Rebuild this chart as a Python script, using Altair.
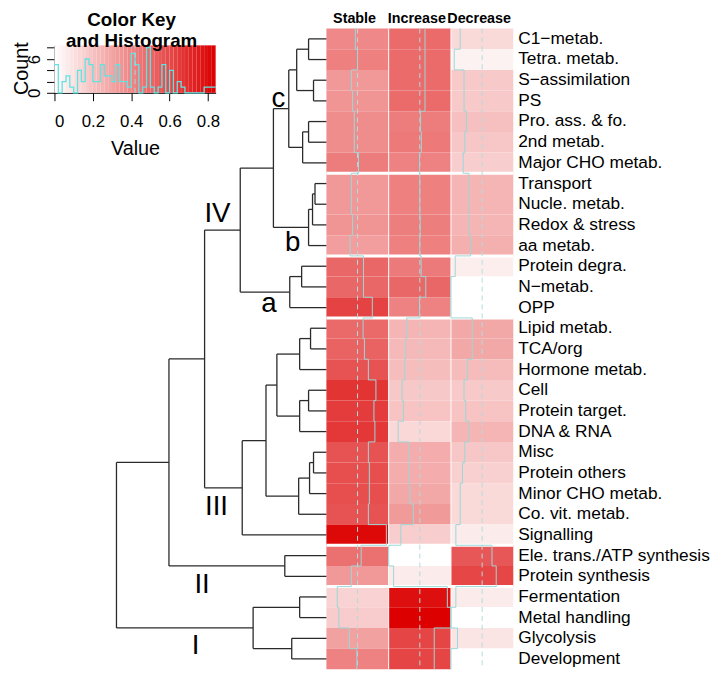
import altair as alt
import numpy as np
import pandas as pd

# ---------------- data ----------------
row_labels = [
    "C1−metab.", "Tetra. metab.", "S−assimilation", "PS", "Pro. ass. & fo.", "2nd metab.",
    "Major CHO metab.", "Transport", "Nucle. metab.", "Redox & stress", "aa metab.",
    "Protein degra.", "N−metab.", "OPP", "Lipid metab.", "TCA/org", "Hormone metab.", "Cell",
    "Protein target.", "DNA & RNA", "Misc", "Protein others", "Minor CHO metab.",
    "Co. vit. metab.", "Signalling", "Ele. trans./ATP synthesis", "Protein synthesis",
    "Fermentation", "Metal handling", "Glycolysis", "Development",
]
col_labels = ["Stable", "Increase", "Decrease"]

stable = [0.39, 0.42, 0.336, 0.354, 0.376, 0.376, 0.433, 0.336, 0.336, 0.354, 0.32,
          0.50, 0.50, 0.619, 0.495, 0.513, 0.566, 0.668, 0.641, 0.654, 0.566, 0.579,
          0.579, 0.566, 0.809, 0.469, 0.336, 0.146, 0.168, 0.309, 0.411]
increase = [0.49, 0.49, 0.49, 0.49, 0.43, 0.44, 0.415, 0.42, 0.42, 0.425, 0.42,
            0.438, 0.50, 0.416, 0.243, 0.23, 0.217, 0.181, 0.199, 0.128, 0.274, 0.274,
            0.287, 0.332, 0.164, 0.0, 0.066, 0.791, 0.84, 0.614, 0.614]
decrease = [0.124, 0.044, 0.177, 0.177, 0.208, 0.186, 0.164, 0.243, 0.243, 0.243, 0.265,
            0.057, 0.0, 0.0, 0.287, 0.287, 0.221, 0.177, 0.199, 0.243, 0.186, 0.155,
            0.124, 0.124, 0.066, 0.553, 0.61, 0.066, 0.0, 0.088, 0.0]

row_group_ends = [7, 11, 14, 25, 27]

# hclust-style merges: negative = leaf (1-based row), positive = earlier merge
merge_left = [-1, -3, 1, -5, 4, 3, -8, 7, 8, 6, -12, 11, 10, -15, 14, -18, 16, 15,
              -21, 19, 20, 18, 22, 13, -26, 24, -28, -30, 27, 26]
merge_right = [-2, -4, 2, -6, -7, 5, -9, -10, -11, 9, -13, -14, 12, -16, -17, -19, -20, 17,
               -22, -23, -24, 21, -25, 23, -27, 25, -29, -31, 28, 29]
merge_height = [0.18, 0.13, 0.30, 0.18, 0.24, 0.38, 0.115, 0.14, 0.18, 0.535, 0.25, 0.37,
                0.87, 0.16, 0.27, 0.18, 0.27, 0.50, 0.13, 0.17, 0.28, 0.61, 0.85, 1.23,
                0.42, 1.59, 0.27, 0.35, 0.74, 2.12]

cluster_names = ["IV", "c", "b", "a", "III", "II", "I"]
cluster_h = [1.10, 0.485, 0.34, 0.58, 1.11, 1.255, 1.32]
cluster_row = [8.97, 3.42, 10.38, 13.33, 23.17, 26.92, 29.90]

key_ticks = [0, 0.2, 0.4, 0.6, 0.8]
count_ticks = [0, 2, 4, 6, 8]

# ---------------- layout ----------------
W, H = 714, 666
FONT = "Liberation Sans"


def P(v):
    return v - 8


nrow = len(row_labels)
series = [stable, increase, decrease]
VMAX = max(stable + increase + decrease)
VLINE = VMAX / 2.0

XHEAT = alt.Scale(domain=[0, 3], range=[P(330), P(519)], nice=False, zero=False)
YROW = alt.Scale(domain=[0, nrow], range=[17, 665], nice=False, zero=False)
XDEN = alt.Scale(domain=[0, max(merge_height)], range=[P(330), P(117.7)], nice=False, zero=False)
COLS = alt.Scale(domain=[0, VMAX], range=["#ffffff", "#dc0000"], interpolate="rgb")

# ---------------- tables ----------------
cells, trace = [], []
for ci, vals in enumerate(series):
    seq = 0
    for j, v in enumerate(vals):
        cells.append({"x0": ci, "x1": ci + 1, "r0": j, "r1": j + 1, "v": v})
        xt = ci + v / VMAX
        trace.append({"col": ci, "seq": seq, "x": xt, "y": j}); seq += 1
        trace.append({"col": ci, "seq": seq, "x": xt, "y": j + 1}); seq += 1
cells = pd.DataFrame(cells)
trace = pd.DataFrame(trace)

vlines = pd.DataFrame({"x": [ci + VLINE / VMAX for ci in range(3)], "a": 0, "b": nrow})
colsep = pd.DataFrame({"x": [1, 2], "a": 0, "b": nrow})
rowsep = pd.DataFrame({"r": row_group_ends, "a": 0, "b": 3})
labels = pd.DataFrame({"t": row_labels, "y": [j + 0.5 for j in range(nrow)], "x": 3})
heads = pd.DataFrame({"t": col_labels, "x": [i + 0.5 for i in range(3)]})

# dendrogram segments
node_y, node_h, segs = {}, {}, []


def child(c):
    if c < 0:
        return (-c - 1) + 0.5, 0.0
    return node_y[c], node_h[c]


for k, (a, b, h) in enumerate(zip(merge_left, merge_right, merge_height), start=1):
    ya, ha = child(a)
    yb, hb = child(b)
    node_y[k], node_h[k] = (ya + yb) / 2.0, h
    segs.append({"x": h, "x2": h, "y": ya, "y2": yb})
    segs.append({"x": h, "x2": ha, "y": ya, "y2": ya})
    segs.append({"x": h, "x2": hb, "y": yb, "y2": yb})
segs = pd.DataFrame(segs)
clus = pd.DataFrame({"t": cluster_names, "h": cluster_h, "r": cluster_row})

# colour key + histogram
breaks = np.round(np.linspace(0, VMAX, 43), 6)
allv = np.round(np.array(stable + increase + decrease), 6)
idx = np.clip(np.searchsorted(breaks, allv, side="left") - 1, 0, len(breaks) - 2)
counts = np.bincount(idx, minlength=len(breaks) - 1)
cmax = counts.max()
KX = alt.Scale(domain=[0, VMAX], range=[P(55), P(218)], nice=False, zero=False)
KY = alt.Scale(domain=[0, cmax / 0.95], range=[P(90), P(42)], nice=False, zero=False)

grad = pd.DataFrame({"b0": breaks[:-1], "b1": breaks[1:], "m": (breaks[:-1] + breaks[1:]) / 2,
                     "y0": 0.0, "y1": cmax / 0.95})
hist = pd.DataFrame({"x": breaks, "c": list(counts) + [counts[-1]]})
kv = pd.DataFrame({"x": [VLINE], "a": 0.0, "b": cmax / 0.95})

# ---------------- layers ----------------
NOAX = None
heat = alt.Chart(cells).mark_rect(strokeWidth=0).encode(
    x=alt.X("x0:Q", scale=XHEAT, axis=NOAX), x2="x1:Q",
    y=alt.Y("r0:Q", scale=YROW, axis=NOAX), y2="r1:Q",
    color=alt.Color("v:Q", scale=COLS, legend=None))

csep = alt.Chart(colsep).mark_rule(color="white", strokeWidth=1).encode(
    x=alt.X("x:Q", scale=XHEAT, axis=NOAX),
    y=alt.Y("a:Q", scale=YROW, axis=NOAX), y2="b:Q")

rsep = alt.Chart(rowsep).mark_rule(color="white", strokeWidth=3).encode(
    y=alt.Y("r:Q", scale=YROW, axis=NOAX),
    x=alt.X("a:Q", scale=XHEAT, axis=NOAX), x2="b:Q")

vl = alt.Chart(vlines).mark_rule(color="#b2dcdc", strokeWidth=1, strokeDash=[5, 4]).encode(
    x=alt.X("x:Q", scale=XHEAT, axis=NOAX),
    y=alt.Y("a:Q", scale=YROW, axis=NOAX), y2="b:Q")

tr = alt.Chart(trace).mark_line(color="#9cd8d8", strokeWidth=1).encode(
    x=alt.X("x:Q", scale=XHEAT, axis=NOAX),
    y=alt.Y("y:Q", scale=YROW, axis=NOAX),
    detail="col:N", order=alt.Order("seq:Q"))

lab = alt.Chart(labels).mark_text(align="left", baseline="middle", dx=5, fontSize=17.5,
                                  font=FONT, color="black").encode(
    x=alt.X("x:Q", scale=XHEAT, axis=NOAX),
    y=alt.Y("y:Q", scale=YROW, axis=NOAX), text="t:N")

hd = alt.Chart(heads).mark_text(align="center", baseline="alphabetic", fontSize=14.5,
                                fontWeight="bold", font=FONT, color="black", dx=-3).encode(
    x=alt.X("x:Q", scale=XHEAT, axis=NOAX), y=alt.value(11), text="t:N")

den = alt.Chart(segs).mark_rule(color="#2a2a2a", strokeWidth=1.3).encode(
    x=alt.X("x:Q", scale=XDEN, axis=NOAX), x2="x2:Q",
    y=alt.Y("y:Q", scale=YROW, axis=NOAX), y2="y2:Q")

cl = alt.Chart(clus).mark_text(align="center", baseline="middle", fontSize=28, font=FONT,
                               color="black").encode(
    x=alt.X("h:Q", scale=XDEN, axis=NOAX),
    y=alt.Y("r:Q", scale=YROW, axis=NOAX), text="t:N")

axis_style = dict(domainColor="black", tickColor="black", labelColor="black", titleColor="black",
                  labelFont=FONT, titleFont=FONT, labelFontSize=17, titleFontSize=20,
                  titleFontWeight="normal", tickSize=8, grid=False)

kg = alt.Chart(grad).mark_rect(strokeWidth=0).encode(
    x=alt.X("b0:Q", scale=KX, axis=alt.Axis(orient="bottom", offset=P(90) - H, values=key_ticks,
                                             format="~g", title="Value", labelPadding=13,
                                             titlePadding=9, **axis_style)),
    x2="b1:Q",
    y=alt.Y("y0:Q", scale=KY, axis=alt.Axis(orient="left", offset=-P(55), values=count_ticks,
                                             labelExpr="(datum.value == 0 || datum.value == 6) ? datum.label : ''",
                                             labelAngle=270, labelAlign="center", labelBaseline="bottom",
                                             labelPadding=3, title="Count", titleAngle=270,
                                             titleBaseline="alphabetic", titleAlign="center",
                                             titleX=-27, titleY=(P(42) + P(90)) / 2 - 1,
                                             **axis_style)),
    y2="y1:Q",
    color=alt.Color("m:Q", scale=COLS, legend=None))

kh = alt.Chart(hist).mark_line(color="#5fe3e3", strokeWidth=1.3, interpolate="step-after").encode(
    x=alt.X("x:Q", scale=KX, axis=NOAX), y=alt.Y("c:Q", scale=KY, axis=NOAX))

kvl = alt.Chart(kv).mark_rule(color="#9fdede", strokeWidth=1, strokeDash=[5, 4]).encode(
    x=alt.X("x:Q", scale=KX, axis=NOAX), y=alt.Y("a:Q", scale=KY, axis=NOAX), y2="b:Q")

kt = alt.Chart(pd.DataFrame({"t": ["Color Key\nand Histogram"]})).mark_text(
    align="center", baseline="alphabetic", fontSize=19, fontWeight="bold", font=FONT,
    color="black", lineBreak="\n", lineHeight=22).encode(
    x=alt.value(P(133)), y=alt.value(P(22)), text="t:N")

chart = alt.layer(heat, csep, rsep, vl, tr, lab, hd, den, cl, kg, kh, kvl, kt).resolve_scale(
    x="independent", y="independent", color="independent"
).properties(
    width=W, height=H, padding=0, autosize=alt.AutoSizeParams(type="none"),
    background="white"
).configure_view(strokeWidth=0)

chart.save("out.html", embed_options={"renderer": "svg", "actions": False})
